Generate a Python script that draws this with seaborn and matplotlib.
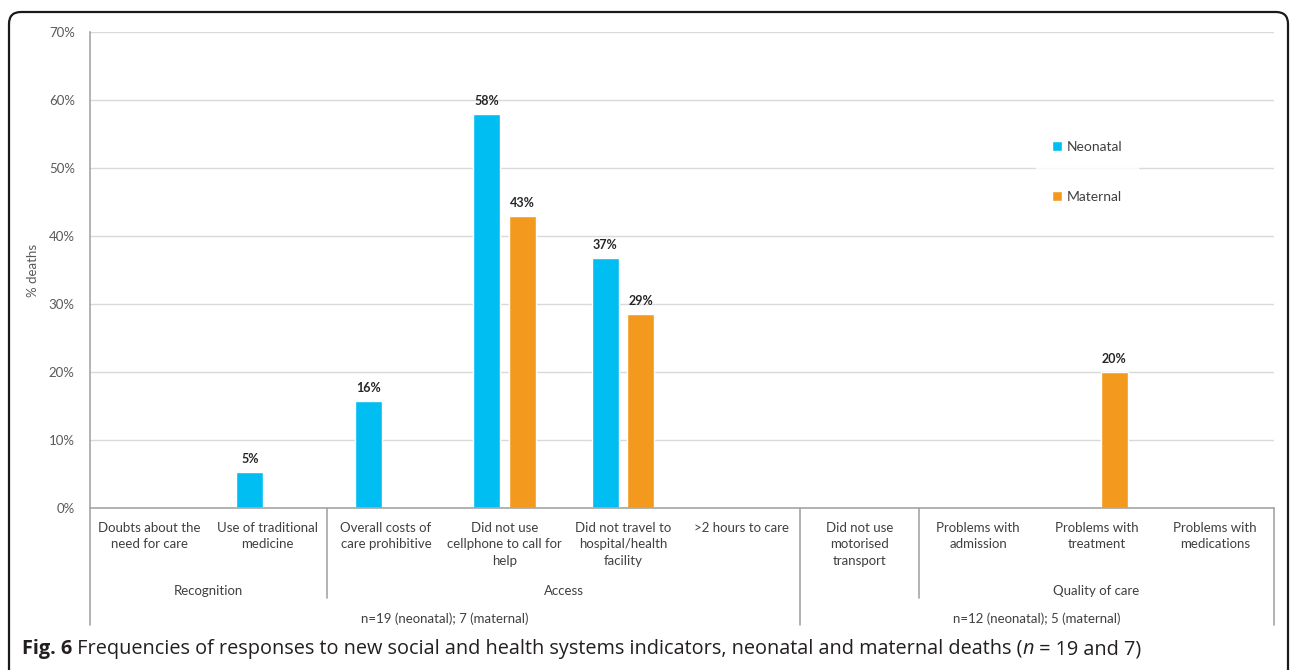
import pandas as pd
import matplotlib.pyplot as plt
import seaborn as sns
from matplotlib.patches import FancyBboxPatch, Patch

# =============================
# Data
# =============================
categories = [
    "Doubts about the\nneed for care",
    "Use of traditional\nmedicine",
    "Overall costs of\ncare prohibitive",
    "Did not use\ncellphone to call for\nhelp",
    "Did not travel to\nhospital/health\nfacility",
    ">2 hours to care",
    "Did not use\nmotorised\ntransport",
    "Problems with\nadmission",
    "Problems with\ntreatment",
    "Problems with\nmedications",
]
neonatal = [0, 5.3, 15.8, 57.9, 36.8, 0, 0, 0, 0, 0]
maternal = [0, 0, 0, 42.9, 28.6, 0, 0, 0, 20.0, 0]

# level 2 / level 3 groups: (label, first index, last index)
groups = [("Recognition", 0, 1), ("Access", 2, 5), ("", 6, 6), ("Quality of care", 7, 9)]
samples = [("n=19 (neonatal); 7 (maternal)", 0, 5), ("n=12 (neonatal); 5 (maternal)", 6, 9)]

series = ["Neonatal", "Maternal"]
colors = ["#00BEF2", "#F39A1E"]

df = pd.DataFrame({
    "category": categories * 2,
    "series": ["Neonatal"] * len(categories) + ["Maternal"] * len(categories),
    "value": neonatal + maternal,
})

# =============================
# Plotting
# =============================
sns.set_style("white")
plt.rcParams["font.family"] = ["Lato", "DejaVu Sans"]

fig = plt.figure(figsize=(12.92, 6.70), dpi=100)
ax = fig.add_axes([0.0697, 0.2418, 0.9164, 0.7104])

sns.barplot(data=df, x="category", y="value", hue="series", hue_order=series,
            palette=colors, width=0.6, gap=0.24, saturation=1, ax=ax, legend=False)

for cont in ax.containers:
    labels = [f"{b.get_height():.0f}%" if b.get_height() > 0 else "" for b in cont]
    ax.bar_label(cont, labels=labels, padding=5, fontsize=9, fontweight="bold", color="#262626")

ax.set_ylim(0, 70)
ax.set_xlim(-0.5, len(categories) - 0.5)
ax.set_yticks(range(0, 71, 10))
ax.set_yticklabels([f"{v}%" for v in range(0, 71, 10)], fontsize=9.5, color="#595959")
ax.yaxis.grid(True, color="#D9D9D9", linewidth=1)
ax.set_axisbelow(True)
ax.tick_params(axis="y", length=0, pad=11)
ax.set_ylabel("% deaths", fontsize=9.5, color="#595959", labelpad=7)
ax.set_xlabel("")

ax.set_xticks(range(len(categories)))
ax.set_xticklabels(categories, fontsize=9.5, color="#404040", linespacing=1.45)
ax.tick_params(axis="x", length=0, pad=10)

for s in ["top", "right"]:
    ax.spines[s].set_visible(False)
for s in ["left", "bottom"]:
    ax.spines[s].set_color("#A6A6A6")
    ax.spines[s].set_linewidth(1.2)

# multi-level category axis
trans = ax.get_xaxis_transform()
for label, a, b in groups:
    ax.text((a + b) / 2, -0.174, label, transform=trans, ha="center", va="center",
            fontsize=9.5, color="#404040")
for label, a, b in samples:
    ax.text((a + b) / 2, -0.233, label, transform=trans, ha="center", va="center",
            fontsize=9.5, color="#404040")
for x, depth in [(-0.5, -0.246), (1.5, -0.189), (5.5, -0.246), (6.5, -0.189), (9.5, -0.246)]:
    ax.plot([x, x], [0, depth], transform=trans, color="#A6A6A6", lw=1.2, clip_on=False)

# legend
handles = [Patch(facecolor=c, label=s) for s, c in zip(series, colors)]
leg = ax.legend(handles=handles, loc="center", bbox_to_anchor=(0.842, 0.706),
                frameon=True, fontsize=10, handlelength=0.75, handleheight=0.75,
                handletextpad=0.35, labelspacing=2.7, borderpad=1.1, borderaxespad=0)
leg.get_frame().set_facecolor("white")
leg.get_frame().set_edgecolor("white")
for t in leg.get_texts():
    t.set_color("#404040")

# figure frame
frame = FancyBboxPatch((0.09, -0.5), 12.79, 7.08, boxstyle="round,pad=0,rounding_size=0.12",
                       transform=fig.dpi_scale_trans, facecolor="none",
                       edgecolor="#1a1a1a", linewidth=1.6)
fig.patches.append(frame)

# caption
cap_font = ["Open Sans", "DejaVu Sans"]
cap_size = 14.3
t1 = fig.text(22 / 1292, 1 - 649 / 670, "Fig. 6", fontsize=cap_size, fontweight="bold",
              family=cap_font, va="center", color="#231f20")
ann1 = plt.annotate(" Frequencies of responses to new social and health systems indicators, "
                    "neonatal and maternal deaths (", xy=(1, 0), xycoords=t1, va="bottom",
                    ha="left", fontsize=cap_size, family=cap_font, color="#231f20",
                    annotation_clip=False)
ann2 = plt.annotate("n", xy=(1, 0), xycoords=ann1, va="bottom", ha="left", fontsize=cap_size,
                    style="italic", family=cap_font, color="#231f20", annotation_clip=False)
plt.annotate(" = 19 and 7)", xy=(1, 0), xycoords=ann2, va="bottom", ha="left", fontsize=cap_size,
             family=cap_font, color="#231f20", annotation_clip=False)

plt.savefig("out.png", dpi=100)
